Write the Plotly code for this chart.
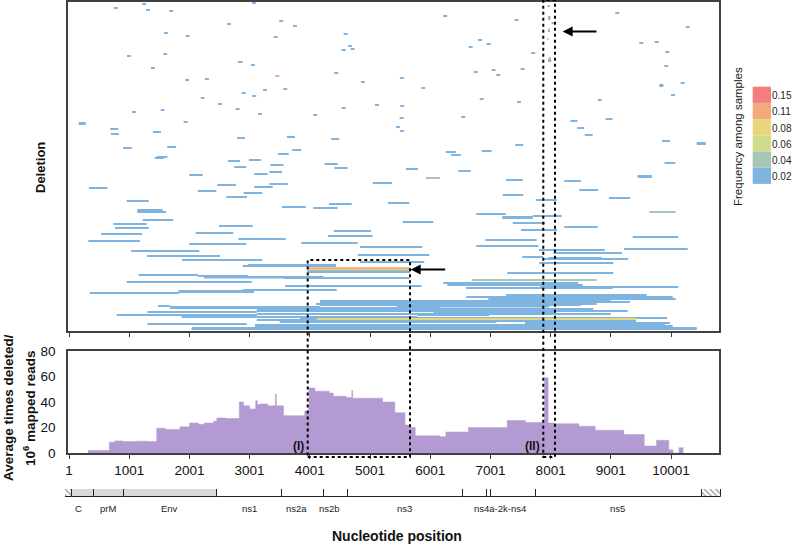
import plotly.graph_objects as go

W, H = 794, 544

# ---------------- data ----------------
# deletions grouped by frequency among samples: (start nt, end nt, row)
del_f002 = [
    (744, 810, 323), (1218, 1284, 327), (1279, 1345, 321), (1666, 1732, 320), (3040, 3106, 328),
    (2625, 2691, 307), (3493, 3559, 310), (3721, 3787, 305), (1578, 1644, 298), (1939, 2005, 295),
    (4563, 4629, 297), (3400, 3466, 294), (4634, 4700, 285), (4679, 4745, 282), (4530, 4596, 281),
    (964, 1030, 275), (1567, 1633, 277), (2805, 2885, 269), (3023, 3089, 266), (1362, 1428, 263),
    (4407, 4473, 258), (1932, 1998, 251), (2259, 2325, 252), (4850, 4916, 249), (3223, 3289, 241),
    (3560, 3626, 242), (2869, 2935, 238), (3045, 3111, 235), (2188, 2254, 233), (2475, 2541, 227),
    (2769, 2835, 222), (3140, 3206, 217), (1523, 1589, 221), (1047, 1113, 219), (4530, 4596, 223),
    (5083, 5149, 226), (4058, 4124, 216), (163, 279, 207), (163, 279, 208), (1905, 1971, 209),
    (686, 818, 202), (698, 830, 197), (1396, 1528, 199), (2791, 2923, 193), (3621, 3753, 194),
    (4357, 4489, 192), (900, 1050, 183), (1631, 1781, 184), (3707, 3857, 181), (3470, 3650, 177),
    (1455, 1635, 174), (1425, 1575, 173), (2989, 3189, 171), (2641, 2841, 170), (2745, 2945, 164),
    (3345, 3565, 166), (4247, 4467, 167), (4408, 4628, 163),
    (6217, 6283, 315), (7403, 7469, 311), (6794, 6860, 291), (6938, 7004, 287), (6639, 6705, 284),
    (7679, 7745, 278), (5498, 5564, 253), (5852, 5918, 243), (6722, 6788, 259), (7021, 7087, 261),
    (7098, 7164, 256), (7503, 7569, 262), (6822, 6888, 232), (7442, 7508, 229), (5503, 5569, 225),
    (5493, 5559, 213), (6516, 6582, 214), (5432, 5498, 204), (5498, 5564, 200), (7414, 7546, 186),
    (6855, 7021, 180), (6262, 6428, 179), (6345, 6511, 176), (5597, 5797, 162),
    (7950, 7986, 325), (7960, 7996, 312), (8016, 8052, 308), (7956, 7992, 300), (7958, 8010, 271),
    (7958, 8010, 270),
    (9075, 9141, 318), (10244, 10310, 304), (9474, 9540, 288), (9729, 9795, 289), (9905, 9971, 279),
    (9889, 9955, 265), (10161, 10227, 248), (9806, 9872, 246), (9806, 9872, 245), (10000, 10066, 236),
    (8783, 8849, 231), (8331, 8447, 210), (8912, 9028, 212), (8442, 8558, 203), (8567, 8699, 196),
    (9851, 9983, 190), (10428, 10578, 188), (10428, 10578, 187), (9893, 10073, 168),
    (1999, 2222, 156), (3078, 3301, 157), (3328, 3539, 159), (333, 637, 143), (2464, 2775, 146),
    (3078, 3384, 144), (3328, 3638, 147), (2139, 2448, 140), (2902, 3212, 138), (2614, 2958, 134),
    (5045, 5366, 148), (959, 1325, 130), (1135, 1557, 121), (1135, 1612, 119), (1225, 1733, 111),
    (737, 1292, 107), (765, 1325, 103), (533, 1214, 97), (322, 1180, 90), (2493, 3052, 105),
    (2106, 2730, 98), (2813, 3601, 92), (1999, 2946, 87), (3539, 3933, 124), (4059, 4464, 123),
    (4320, 4697, 127), (4398, 5017, 100), (4303, 5045, 95), (3860, 4796, 88), (4835, 5869, 84),
    (1031, 2165, 80), (1297, 2509, 75), (1878, 3212, 71), (4796, 5986, 76), (2886, 4436, 65),
    (2979, 4436, 66), (3960, 5665, 60), (3960, 5665, 59), (1159, 2144, 56), (2144, 2979, 55),
    (2243, 4225, 54), (2243, 4225, 53.5), (3572, 5653, 53), (959, 3036, 49), (3589, 5859, 45),
    (345, 1833, 38), (1823, 3074, 39), (1823, 3074, 40), (2886, 4447, 41), (1479, 1679, 25),
    (1679, 4170, 24), (1679, 4170, 23), (793, 3119, 16), (1302, 3119, 19), (1873, 3119, 15),
    (1873, 3119, 14), (1302, 2953, 7), (2039, 10427, 2), (2039, 10427, 3), (3090, 9972, 4),
    (3090, 10028, 5), (3090, 9900, 6),
    (6467, 6673, 160), (7260, 7537, 151), (8228, 8505, 150), (9447, 9680, 154), (9447, 9680, 155),
    (8477, 8793, 141), (7205, 7547, 136), (7753, 8102, 131), (8970, 9324, 133), (5300, 5653, 128),
    (6766, 7255, 117), (7198, 7703, 113), (7198, 7703, 114), (7703, 8185, 115), (5544, 6052, 109),
    (7371, 7908, 108), (7509, 8107, 101), (8228, 8783, 104), (9364, 10121, 94), (6916, 7769, 91),
    (6766, 7796, 85), (9220, 10278, 82), (7808, 8899, 81), (8045, 9186, 78), (7530, 7879, 74),
    (7962, 8849, 73), (7879, 9291, 72), (4835, 5902, 69), (7813, 9042, 68), (7281, 9042, 58),
    (6218, 8460, 48), (6285, 8533, 46), (6595, 9032, 43), (7824, 10121, 44), (7260, 9597, 36),
    (6600, 10028, 34), (6966, 10078, 32), (4170, 9319, 29), (4170, 9000, 30), (4100, 8766, 27),
    (4170, 8500, 26), (5444, 7979, 24.5), (4170, 6164, 23), (3119, 8710, 22), (3119, 9281, 20),
    (6052, 8074, 18), (5786, 6982, 16), (3838, 9938, 13), (3506, 9419, 10), (7575, 9983, 8),
    (3119, 5786, 14), (3500, 7100, 9), (3119, 9000, 17), (3119, 8000, 11),
]
del_f004 = [(5926, 6164, 153), (9640, 10078, 119), (6690, 8766, 51)]
del_f006 = [(7939, 7975, 292)]
del_f008 = [(7956, 7992, 302), (3976, 5660, 61.4), (4115, 9431, 12)]
del_f011 = [(3427, 3493, 255), (7967, 8003, 273), (3976, 5660, 62.8)]
del_f015 = [(7960, 7996, 314)]

freq_levels = [0.02, 0.04, 0.06, 0.08, 0.11, 0.15]

# average times deleted per 10^6 mapped reads (step profile)
hist_pos = [317, 670, 760, 900, 1100, 1300, 1458, 1600, 1845, 2002, 2151, 2253, 2400, 2457, 2600,
            2830, 2900, 3000, 3102, 3130, 3170, 3300, 3428, 3445, 3564, 3612, 3917, 3985, 4087,
            4325, 4393, 4600, 4699, 4712, 5208, 5412, 5582, 5650, 5752, 6159, 6261, 6635, 7280,
            7586, 7900, 7960, 8062, 8469, 8741, 9217, 9556, 9760, 9964, 10032, 10134, 10202]
hist_val = [2.0, 8.5, 9.5, 9.0, 9.3, 9.0, 19.5, 18.5, 20.5, 23.5, 22.5, 23.5, 25.0, 27.5, 27.0,
            40.0, 37.0, 34.5, 41.0, 38.0, 38.5, 37.0, 46.0, 37.0, 29.5, 29.3, 33.0, 51.0, 48.5,
            47.0, 44.5, 43.5, 49.0, 43.0, 40.0, 31.5, 22.0, 20.0, 13.5, 12.8, 16.5, 20.0, 25.5,
            24.0, 59.0, 23.5, 23.0, 21.0, 17.8, 14.5, 5.5, 10.0, 2.5, 0.0, 4.2, 0.0]

tick_vals = [1, 1001, 2001, 3001, 4001, 5001, 6001, 7001, 8001, 9001, 10001]
tick_text = [str(v) for v in tick_vals]
y2_ticks = [0, 20, 40, 60, 80]

# genome map
gene_start = [0, 120, 478, 972, 2497, 3574, 4262, 4661, 6555, 6944, 7011, 7766, 10491]
gene_end = [120, 478, 972, 2497, 3574, 4262, 4661, 6555, 6944, 7011, 7766, 10491, 10807]
gene_kind = ["utr", "str", "str", "str", "ns", "ns", "ns", "ns", "ns", "ns", "ns", "ns", "utr"]
label_text = ["C", "prM", "Env", "ns1", "ns2a", "ns2b", "ns3", "ns4a-2k-ns4", "ns5"]
label_pos = [230, 708, 1729, 3047, 3821, 4365, 5600, 7164, 9108]

# highlighted regions (nt) and arrows
box_I = (3966, 5665)
box_II = (7879, 8073)
arrow_II = (8200, 8787, 299.5)
arrow_I = (5676, 6274, 61.6)

# ---------------- styles ----------------
FONT = "Liberation Sans, Arial, sans-serif"
freq_colors = ["#7FB3E0", "#A6C7B5", "#CEDC8B", "#E8D67D", "#F2A97B", "#F47E7E"]
PURPLE = "#B49AD2"
AXC = "#404040"

XR = [-15.6, 10797.5]
XD = [68 / W, 719 / W]
YD1 = [1 - 331 / H, 1 - 2 / H]
YD2 = [1 - 453 / H, 1 - 351 / H]
XD3 = [65 / W, 721 / W]
YD3 = [1 - 497 / H, 1 - 489 / H]
YR1 = [0, 329]


def px_x(nt):
    return XD[0] + (nt - XR[0]) / (XR[1] - XR[0]) * (XD[1] - XD[0])


def py_row(row):
    return YD1[0] + (row - YR1[0]) / (YR1[1] - YR1[0]) * (YD1[1] - YD1[0])


fig = go.Figure()

for segs, col in zip([del_f002, del_f004, del_f006, del_f008, del_f011, del_f015], freq_colors):
    xs, ys = [], []
    for s, e, r in segs:
        xs += [s, e, None]
        ys += [r, r, None]
    fig.add_trace(go.Scatter(x=xs, y=ys, mode="lines", line=dict(color=col, width=2),
                             xaxis="x", yaxis="y", showlegend=False, hoverinfo="skip"))

fig.add_trace(go.Scatter(x=hist_pos, y=hist_val, mode="lines", line=dict(color=PURPLE, width=0.5, shape="hv"),
                         fill="tozeroy", fillcolor=PURPLE, xaxis="x2", yaxis="y2", showlegend=False,
                         hoverinfo="skip"))

fills = {"utr": "white", "str": "#D9D9D9", "ns": "white"}
pats = {"utr": "\\", "str": "", "ns": ""}
fig.add_trace(go.Bar(
    x=[e - s for s, e in zip(gene_start, gene_end)], base=gene_start, y=[0] * len(gene_start),
    orientation="h", width=1,
    marker=dict(color=[fills[k] for k in gene_kind], line=dict(color="#222222", width=1),
                pattern=dict(shape=[pats[k] for k in gene_kind], fgcolor="#333333", bgcolor="white",
                             size=4, solidity=0.35)),
    xaxis="x3", yaxis="y3", showlegend=False, hoverinfo="skip"))

axis_common = dict(showgrid=False, zeroline=False, showline=True, mirror=True, linecolor=AXC,
                   linewidth=1.5, automargin=False)

fig.update_layout(
    width=W, height=H, margin=dict(l=0, r=0, t=0, b=0, pad=0, autoexpand=False),
    paper_bgcolor="white", plot_bgcolor="white",
    font=dict(family=FONT, color="#111111"),
    xaxis=dict(domain=XD, range=XR, anchor="y", tickvals=tick_vals, showticklabels=False,
               ticks="outside", ticklen=4, tickcolor=AXC, **axis_common),
    yaxis=dict(domain=YD1, range=YR1, anchor="x", showticklabels=False, ticks="", **axis_common),
    xaxis2=dict(domain=XD, range=XR, anchor="y2", tickvals=tick_vals, ticktext=tick_text,
                ticks="outside", ticklen=4, tickcolor=AXC, tickfont=dict(size=13.5, family=FONT),
                **axis_common),
    yaxis2=dict(domain=YD2, range=[0, 80], anchor="x2", tickvals=y2_ticks, ticks="",
                ticklabelstandoff=8, tickfont=dict(size=13.5, family=FONT), **axis_common),
    xaxis3=dict(domain=XD3, range=[0, gene_end[-1]], anchor="y3", visible=False, automargin=False),
    yaxis3=dict(domain=YD3, range=[-0.5, 0.5], anchor="x3", visible=False, automargin=False),
    bargap=0,
)

# dotted highlight boxes
shapes = []
for (a, b), top in [(box_I, py_row(71)), (box_II, 1.0)]:
    shapes.append(dict(type="rect", xref="paper", yref="paper", x0=px_x(a), x1=px_x(b),
                       y0=1 - 457 / H, y1=top, line=dict(color="black", width=2, dash="dot")))

# frequency legend
lx0, lx1 = 752.7 / W, 771 / W
box_h = 16.2
for i, (lev, col) in enumerate(zip(reversed(freq_levels), reversed(freq_colors))):
    ytop = 86.7 + i * box_h
    shapes.append(dict(type="rect", xref="paper", yref="paper", x0=lx0, x1=lx1,
                       y0=1 - (ytop + box_h) / H, y1=1 - ytop / H, fillcolor=col,
                       line=dict(width=0)))
fig.update_layout(shapes=shapes)


def txt(x, y, text, size, angle=0, xanchor="center", yanchor="middle", xref="paper", yref="paper",
        color="#111111"):
    return dict(x=x, y=y, xref=xref, yref=yref, text=text, textangle=angle, showarrow=False,
                xanchor=xanchor, yanchor=yanchor, borderpad=0,
                font=dict(size=size, family=FONT, color=color))


ann = []
for i, lev in enumerate(reversed(freq_levels)):
    yc = 86.7 + i * box_h + box_h / 2 + 1
    ann.append(txt(771 / W, 1 - yc / H, f"{lev:.2f}", 10, xanchor="left", color="#222222"))
ann.append(txt(738 / W, 1 - 137 / H, "Frequency among samples", 11.5, angle=-90, color="#222222"))

# axis titles
ann.append(txt(40 / W, 1 - 168 / H, "<b>Deletion</b>", 13, angle=-90))
ann.append(txt(8 / W, 1 - 408 / H, "<b>Average times deleted/</b>", 13.5, angle=-90))
ann.append(txt(29 / W, 1 - 408 / H, "<b>10<sup>6</sup> mapped reads</b>", 13.5, angle=-90))
ann.append(txt(397 / W, 1 - 536 / H, "<b>Nucleotide position</b>", 14))

# gene labels
for t, p in zip(label_text, label_pos):
    ann.append(txt(p, 1 - 508 / H, t, 9.5, xref="x3", color="#222222"))

# region labels
ann.append(txt(box_I[0] - 40, 5.5, "<b>(I)</b>", 12, xanchor="right", xref="x2", yref="y2"))
ann.append(txt(box_II[0] - 40, 5.5, "<b>(II)</b>", 12, xanchor="right", xref="x2", yref="y2"))

# arrows
for tip, tail, row in [arrow_II, arrow_I]:
    ann.append(dict(x=tip, y=row, ax=tail, ay=row, xref="x", yref="y", axref="x", ayref="y",
                    text="", showarrow=True, arrowhead=2, arrowsize=1, arrowwidth=2,
                    arrowcolor="black"))

fig.update_layout(annotations=ann)

fig.write_html("out.html")
